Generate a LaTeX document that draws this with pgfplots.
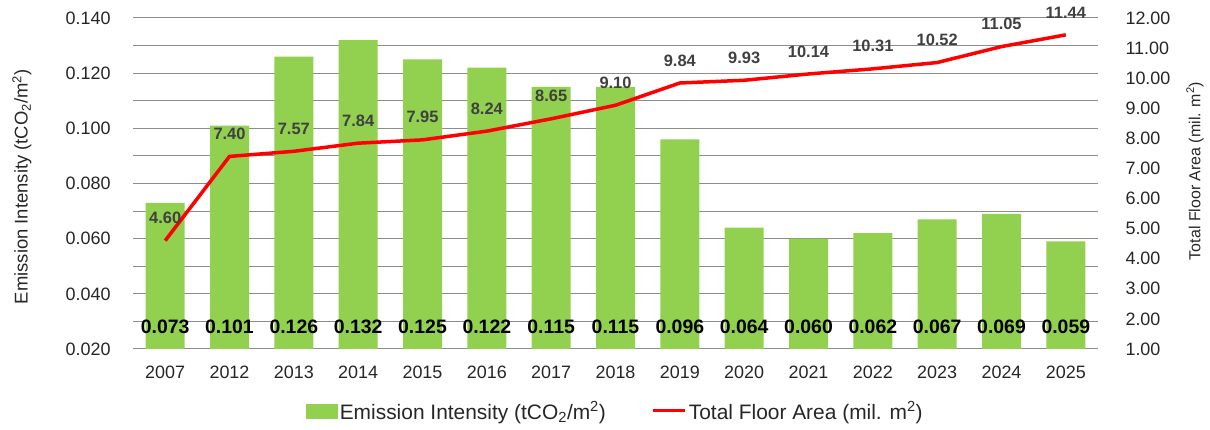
\documentclass[border=0pt]{standalone}
\usepackage{pgfplots}
\pgfplotsset{compat=1.18}
\usepackage{pgfplotstable}
\usepackage{fontspec}
\setmainfont{Liberation Sans}
\definecolor{barg}{HTML}{92D050}
\definecolor{linered}{HTML}{FF0000}
\definecolor{gridg}{HTML}{8C8C8C}
\definecolor{lblg}{HTML}{404040}
\definecolor{txt}{HTML}{262626}

\pgfplotstableread{
x year ei tfa
0 2007 0.073 4.60
1 2012 0.101 7.40
2 2013 0.126 7.57
3 2014 0.132 7.84
4 2015 0.125 7.95
5 2016 0.122 8.24
6 2017 0.115 8.65
7 2018 0.115 9.10
8 2019 0.096 9.84
9 2020 0.064 9.93
10 2021 0.060 10.14
11 2022 0.062 10.31
12 2023 0.067 10.52
13 2024 0.069 11.05
14 2025 0.059 11.44
}\data

\begin{document}
\begin{tikzpicture}
\useasboundingbox (0,0) rectangle (1210bp,430bp);
\begin{axis}[
  at={(133bp,81bp)}, anchor=south west,
  scale only axis, width=965bp, height=331bp,
  xmin=-0.5, xmax=14.5, ymin=0.02, ymax=0.14,
  xtick={0,...,14},
  xticklabels={2007,2012,2013,2014,2015,2016,2017,2018,2019,2020,2021,2022,2023,2024,2025},
  ytick={0.02,0.04,0.06,0.08,0.10,0.12,0.14},
  minor ytick={0.03,0.05,0.07,0.09,0.11,0.13},
  ymajorgrids, yminorgrids,
  major grid style={gridg, line width=1bp},
  minor grid style={gridg, line width=1bp},
  axis line style={draw=none},
  major tick length=0, minor tick length=0,
  /pgf/number format/assume math mode=true,
  tick label style={font=\fontsize{18}{21}\selectfont, text=txt},
  yticklabel style={xshift=-19bp, /pgf/number format/.cd, fixed, fixed zerofill, precision=3},
  xticklabel style={yshift=-13bp},
  ylabel={Emission Intensity (tCO\textsubscript{2}/m\textsuperscript{2})},
  ylabel style={at={(rel axis cs:0,0.49)}, yshift=111bp, anchor=center, font=\fontsize{18.5}{22}\selectfont, text=txt},
  clip=false,
]
\addplot[ybar, bar width=39bp, fill=barg, draw=none] table[x=x, y=ei] {\data};
\addplot[draw=none, mark=none, nodes near coords, point meta=explicit,
  nodes near coords style={font=\bfseries\fontsize{19.5}{23}\selectfont, text=black, anchor=center, inner sep=0pt,
  /pgf/number format/.cd, fixed, fixed zerofill, precision=3}]
  table[x=x, y expr=0.028, meta=ei] {\data};
\end{axis}
\begin{axis}[
  at={(133bp,81bp)}, anchor=south west,
  scale only axis, width=965bp, height=331bp,
  xmin=-0.5, xmax=14.5, ymin=1, ymax=12,
  axis y line*=right, axis x line=none,
  ytick={1,2,3,4,5,6,7,8,9,10,11,12},
  axis line style={draw=none},
  major tick length=0,
  /pgf/number format/assume math mode=true,
  tick label style={font=\fontsize{18}{21}\selectfont, text=txt},
  yticklabel style={xshift=24bp, /pgf/number format/.cd, fixed, fixed zerofill, precision=2},
  ylabel={Total Floor Area (mil. m\textsuperscript{2})},
  ylabel style={at={(rel axis cs:1,0.538)}, yshift=-97bp, anchor=center, font=\fontsize{16}{19}\selectfont, text=txt},
  clip=false,
  legend style={at={(0.5,-0.187)}, anchor=center, draw=none, fill=none,
    legend columns=2, font=\fontsize{21}{25}\selectfont, text=txt,
    /tikz/every even column/.append style={column sep=44bp}},
]
\addlegendimage{legend image code/.code={\fill[barg] (0bp,-7bp) rectangle (31bp,7bp);}}
\addlegendentry{Emission Intensity (tCO\textsubscript{2}/m\textsuperscript{2})}
\addlegendimage{legend image code/.code={\draw[linered, line width=3bp] (0bp,0bp) -- (32bp,0bp);}}
\addlegendentry{Total Floor Area (mil. m\textsuperscript{2})}
\addplot[linered, line width=3.5bp, mark=none, forget plot, nodes near coords,
  nodes near coords style={font=\bfseries\fontsize{16.5}{19}\selectfont, text=lblg, anchor=south, inner sep=0pt, yshift=15bp,
  /pgf/number format/.cd, fixed, fixed zerofill, precision=2}]
  table[x=x, y=tfa] {\data};
\end{axis}
\end{tikzpicture}
\end{document}
